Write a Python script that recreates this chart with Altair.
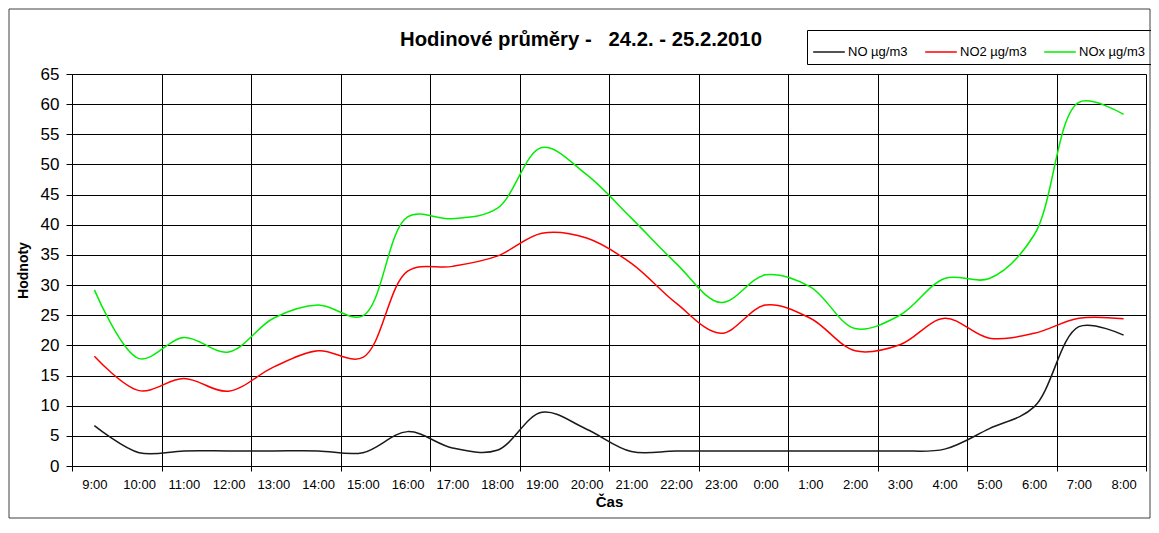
import altair as alt
import pandas as pd

times = ["9:00", "10:00", "11:00", "12:00", "13:00", "14:00", "15:00", "16:00",
         "17:00", "18:00", "19:00", "20:00", "21:00", "22:00", "23:00", "0:00",
         "1:00", "2:00", "3:00", "4:00", "5:00", "6:00", "7:00", "8:00"]
no_vals = [6.7, 2.2, 2.5, 2.5, 2.5, 2.5, 2.2, 5.7, 3.0, 2.6, 8.9, 6.1,
           2.4, 2.5, 2.5, 2.5, 2.5, 2.5, 2.5, 2.8, 6.2, 9.8, 23.1, 21.7]
no2_vals = [18.2, 12.5, 14.5, 12.4, 16.4, 19.1, 18.0, 32.3, 33.1, 34.8, 38.6, 37.8,
            33.6, 27.0, 22.0, 26.7, 24.5, 19.1, 20.1, 24.5, 21.2, 22.0, 24.5, 24.4]
nox_vals = [29.2, 17.8, 21.3, 18.9, 24.5, 26.7, 24.9, 41.3, 41.0, 42.7, 52.8, 48.3,
            41.1, 33.6, 27.1, 31.7, 29.7, 22.8, 25.0, 31.1, 31.1, 38.3, 60.3, 58.3]
series_names = ["NO µg/m3", "NO2 µg/m3", "NOx µg/m3"]
series_colors = ["#1a1a1a", "#ff0000", "#00ee00"]
y_ticks = list(range(0, 70, 5))

rows = []
for name, vals in zip(series_names, [no_vals, no2_vals, nox_vals]):
    for i, (t, v) in enumerate(zip(times, vals)):
        rows.append({"pos": i + 0.5, "cas": t, "serie": name, "hodnota": v})
df = pd.DataFrame(rows)

W, H = 1074, 392
PAD_L, PAD_T, PAD_R, PAD_B = 64, 66, 5, 54
FONT = "Liberation Sans"
label_list = "[" + ",".join("'" + t + "'" for t in times) + "]"
n = len(times)

x_axis = alt.Axis(
    values=list(range(0, n + 1)),
    labelExpr=f"datum.value < {n} ? {label_list}[datum.value] : ''",
    labelOffset=W / n / 2,
    labelFlush=False,
    labelOverlap=False,
    labelFontSize=13,
    labelFont=FONT,
    labelColor="#000000",
    labelPadding=7,
    tickSize=5,
    tickColor="#000000",
    tickOpacity={"condition": {"test": "datum.value % 2 == 0", "value": 1}, "value": 0},
    grid=True,
    gridColor="#000000",
    gridOpacity={"condition": {"test": "datum.value % 2 == 0", "value": 1}, "value": 0},
    domainColor="#000000",
    title="Čas",
    titleFont=FONT,
    titleFontSize=15,
    titleFontWeight="bold",
    titleColor="#000000",
    titlePadding=3,
)

y_axis = alt.Axis(
    values=y_ticks,
    labelFontSize=17,
    labelFont=FONT,
    labelColor="#000000",
    labelPadding=7,
    tickSize=6,
    tickColor="#000000",
    grid=True,
    gridColor="#000000",
    domainColor="#000000",
    title="Hodnoty",
    titleFont=FONT,
    titleFontSize=14,
    titleFontWeight="bold",
    titleColor="#000000",
    titlePadding=10,
)

lines = alt.Chart(df).mark_line(interpolate="catmull-rom", strokeWidth=1.5).encode(
    x=alt.X("pos:Q", scale=alt.Scale(domain=[0, n], nice=False, zero=False), axis=x_axis),
    y=alt.Y("hodnota:Q", scale=alt.Scale(domain=[0, 65], nice=False), axis=y_axis),
    color=alt.Color(
        "serie:N",
        scale=alt.Scale(domain=series_names, range=series_colors),
        legend=alt.Legend(
            title=None,
            orient="none",
            legendX=735,
            legendY=-44,
            direction="horizontal",
            symbolType="stroke",
            symbolSize=1000,
            symbolStrokeWidth=1.5,
            labelFont=FONT,
            labelFontSize=13,
            labelColor="#000000",
            labelOffset=2,
            columnPadding=14,
            padding=5,
            strokeColor="#000000",
        ),
    ),
)

frame = alt.Chart(pd.DataFrame({"k": [0]})).mark_rect(
    filled=False, stroke="#404040", strokeWidth=1
).encode(
    x=alt.value(-63), x2=alt.value(W + PAD_R - 1),
    y=alt.value(-65), y2=alt.value(H + PAD_B - 2)
)

chart = alt.layer(frame, lines).properties(
    width=W,
    height=H,
    padding={"left": PAD_L, "top": PAD_T, "right": PAD_R, "bottom": PAD_B},
    autosize=alt.AutoSizeParams(type="none"),
    title=alt.TitleParams(
        text="Hodinové průměry -\u00a0\u00a0 24.2. - 25.2.2010",
        font=FONT,
        fontSize=20.3,
        fontWeight="bold",
        color="#000000",
        anchor="middle",
        frame="group",
        baseline="alphabetic",
        offset=0,
        dx=-28,
        dy=58,
    ),
).configure_view(strokeWidth=0)

chart.save("out.html", embed_options={"renderer": "svg", "actions": False})
